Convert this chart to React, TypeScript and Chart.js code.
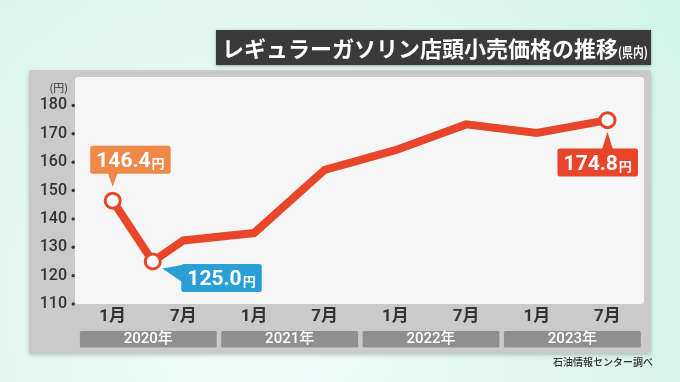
import React, { useEffect, useRef } from 'react';
import { Chart, registerables } from 'chart.js';

Chart.register(...registerables);

// ---- data ----
const titleMain = 'レギュラーガソリン店頭小売価格の推移';
const titleSub = '(県内)';
const unitLabel = '(円)';
const sourceLabel = '石油情報センター調べ';
// months since January 2020
const monthIndex = [0, 3.4, 6, 12, 18, 24, 30, 36, 42];
const prices = [146.4, 125.0, 132.4, 135.0, 157.3, 164.2, 173.3, 170.3, 174.8];
const xTickMonths = [0, 6, 12, 18, 24, 30, 36, 42];
const xTickLabels = ['1月', '7月', '1月', '7月', '1月', '7月', '1月', '7月'];
const yearLabels = ['2020年', '2021年', '2022年', '2023年'];
const yearStartMonths = [0, 12, 24, 36];
const yTicks = [110, 120, 130, 140, 150, 160, 170, 180];
const calloutIndices = [0, 1, 8];
const calloutTexts = ['146.4', '125.0', '174.8'];
const calloutColors = ['#f08849', '#2a9fd6', '#e8452a'];
const calloutKinds = ['above', 'right', 'below'];

const LINE = '#e8452a';
const FONT = "Roboto, 'Noto Sans CJK JP', sans-serif";
const JFONT = "'Noto Sans CJK JP', sans-serif";

function roundRect(ctx: CanvasRenderingContext2D, x: number, y: number, w: number, h: number, r: number) {
  ctx.beginPath();
  ctx.moveTo(x + r, y);
  ctx.lineTo(x + w - r, y);
  ctx.quadraticCurveTo(x + w, y, x + w, y + r);
  ctx.lineTo(x + w, y + h - r);
  ctx.quadraticCurveTo(x + w, y + h, x + w - r, y + h);
  ctx.lineTo(x + r, y + h);
  ctx.quadraticCurveTo(x, y + h, x, y + h - r);
  ctx.lineTo(x, y + r);
  ctx.quadraticCurveTo(x, y, x + r, y);
  ctx.closePath();
}

const decorPlugin = {
  id: 'decor',
  beforeDraw(chart: any) {
    const ctx: CanvasRenderingContext2D = chart.ctx;
    const W = chart.width, H = chart.height;
    const ca = chart.chartArea;
    ctx.save();
    // background
    const g = ctx.createRadialGradient(260, 300, 20, 260, 300, 620);
    g.addColorStop(0, '#f1fdfa');
    g.addColorStop(1, '#cbf0e4');
    ctx.fillStyle = g;
    ctx.fillRect(0, 0, W, H);

    // grey panel
    ctx.save();
    ctx.shadowColor = 'rgba(0,0,0,0.22)';
    ctx.shadowBlur = 4;
    ctx.shadowOffsetY = 2;
    roundRect(ctx, 29, 70, 622, 283, 3);
    ctx.fillStyle = '#cacaca';
    ctx.fill();
    ctx.restore();

    // plot area
    roundRect(ctx, ca.left, ca.top, ca.right - ca.left, ca.bottom - ca.top, 3);
    ctx.fillStyle = '#f6f6f6';
    ctx.fill();

    // title box
    ctx.save();
    ctx.shadowColor = 'rgba(0,0,0,0.3)';
    ctx.shadowBlur = 3;
    ctx.shadowOffsetY = 1;
    ctx.fillStyle = '#3a3a3a';
    ctx.fillRect(216, 30, 435, 35);
    ctx.restore();
    ctx.fillStyle = '#ffffff';
    ctx.textAlign = 'left';
    ctx.textBaseline = 'middle';
    ctx.font = `bold 22px ${JFONT}`;
    ctx.fillText(titleMain, 222, 48.5);
    const tw = ctx.measureText(titleMain).width;
    ctx.save();
    ctx.translate(222 + tw, 56.5);
    ctx.scale(0.8, 1);
    ctx.font = `bold 13.5px ${JFONT}`;
    ctx.textBaseline = 'alphabetic';
    ctx.fillText(titleSub, 0, 0);
    ctx.restore();

    // unit label
    ctx.fillStyle = '#333';
    ctx.font = `11px ${JFONT}`;
    ctx.textAlign = 'right';
    ctx.textBaseline = 'middle';
    ctx.fillText(unitLabel, 68, 88);

    // source
    ctx.font = `500 10px ${JFONT}`;
    ctx.textAlign = 'right';
    ctx.fillText(sourceLabel, 653, 362);
    ctx.restore();
  },
  afterDraw(chart: any) {
    const ctx: CanvasRenderingContext2D = chart.ctx;
    const xs = chart.scales.x;
    const ys = chart.scales.y;
    ctx.save();
    // y tick dots
    ctx.fillStyle = '#333';
    yTicks.forEach((v) => {
      ctx.beginPath();
      ctx.arc(xs.left - 1.8, ys.getPixelForValue(v), 1.7, 0, Math.PI * 2);
      ctx.fill();
    });
    // year bars
    yearStartMonths.forEach((m, i) => {
      const l = xs.getPixelForValue(m - 3) + 2.5;
      const r = xs.getPixelForValue(m + 9) - 2;
      ctx.fillStyle = '#8f8f8f';
      roundRect(ctx, l, 331, r - l, 16.5, 1.5);
      ctx.fill();
      ctx.fillStyle = '#ffffff';
      ctx.font = `500 15px ${FONT}`;
      ctx.textAlign = 'center';
      ctx.textBaseline = 'middle';
      ctx.fillText(yearLabels[i], (l + r) / 2, 339.5);
    });
    ctx.restore();
  },
  afterDatasetsDraw(chart: any) {
    const ctx: CanvasRenderingContext2D = chart.ctx;
    const xs = chart.scales.x;
    const ys = chart.scales.y;
    ctx.save();
    calloutIndices.forEach((idx, i) => {
      const px = xs.getPixelForValue(monthIndex[idx]);
      const py = ys.getPixelForValue(prices[idx]);
      const kind = calloutKinds[i];
      const w = 80.5, h = 28;
      let bx = 0, by = 0;
      ctx.fillStyle = calloutColors[i];
      ctx.beginPath();
      if (kind === 'above') {
        bx = px - 22.5; by = py - 55;
        ctx.moveTo(px - 5, by + h - 1);
        ctx.lineTo(px + 5, by + h - 1);
        ctx.lineTo(px, py - 14);
      } else if (kind === 'right') {
        bx = px + 28.5; by = py + 2.5;
        ctx.moveTo(bx + 1, by + 1);
        ctx.lineTo(bx + 1, by + 18);
        ctx.lineTo(px + 9.5, py + 7);
      } else {
        bx = px - 50; by = py + 28.3;
        ctx.moveTo(px - 5.5, by + 1);
        ctx.lineTo(px + 5.5, by + 1);
        ctx.lineTo(px, py + 11.5);
      }
      ctx.closePath();
      ctx.fill();
      roundRect(ctx, bx, by, w, h, 2.5);
      ctx.fill();
      // text
      ctx.fillStyle = '#ffffff';
      ctx.textBaseline = 'alphabetic';
      ctx.textAlign = 'left';
      ctx.font = `bold 21px ${FONT}`;
      const nw = ctx.measureText(calloutTexts[i]).width;
      ctx.font = `bold 13px ${JFONT}`;
      const yw = ctx.measureText('円').width;
      const total = nw + 1 + yw;
      const sx = bx + (w - total) / 2;
      ctx.font = `bold 21px ${FONT}`;
      ctx.fillText(calloutTexts[i], sx, by + 21.5);
      ctx.font = `bold 13px ${JFONT}`;
      ctx.fillText('円', sx + nw + 1, by + 22.5);
    });
    ctx.restore();
  },
};

export default function App() {
  const ref = useRef<HTMLCanvasElement | null>(null);
  useEffect(() => {
    if (!ref.current) return;
    const chart = new Chart(ref.current, {
      type: 'line',
      data: {
        datasets: [
          {
            data: monthIndex.map((m, i) => ({ x: m, y: prices[i] })),
            borderColor: LINE,
            borderWidth: 8,
            borderJoinStyle: 'miter',
            tension: 0,
            pointRadius: monthIndex.map((_, i) => (calloutIndices.includes(i) ? 7.5 : 0)),
            pointBorderWidth: 3,
            pointBackgroundColor: '#ffffff',
            pointBorderColor: LINE,
            clip: false,
          } as any,
        ],
      },
      options: {
        animation: false,
        responsive: false,
        devicePixelRatio: 1,
        layout: { padding: { left: 0, right: 36, top: 77, bottom: 38 } },
        plugins: { legend: { display: false }, tooltip: { enabled: false } },
        scales: {
          x: {
            type: 'linear',
            min: -3.2,
            max: 45.1,
            grid: { display: false, drawTicks: false },
            border: { display: false },
            afterBuildTicks: (s: any) => {
              s.ticks = xTickMonths.map((v) => ({ value: v }));
            },
            afterFit: (s: any) => {
              s.height = 40;
            },
            ticks: {
              padding: 3,
              autoSkip: false,
              maxRotation: 0,
              color: '#333',
              font: { family: FONT, size: 17, weight: 'bold' },
              callback: (_v: any, i: number) => xTickLabels[i],
            },
          },
          y: {
            min: 110,
            max: 190,
            grid: { display: false, drawTicks: false },
            border: { display: false },
            afterBuildTicks: (s: any) => {
              s.ticks = yTicks.map((v) => ({ value: v }));
            },
            afterFit: (s: any) => {
              s.width = 75;
            },
            ticks: {
              padding: 8,
              color: '#333',
              font: { family: FONT, size: 16, weight: '500' },
            },
          },
        },
      } as any,
      plugins: [decorPlugin],
    });
    return () => chart.destroy();
  }, []);
  return (
    <div style={{ position: 'absolute', left: 0, top: 0, width: 680, height: 382 }}>
      <canvas ref={ref} width={680} height={382} />
    </div>
  );
}
